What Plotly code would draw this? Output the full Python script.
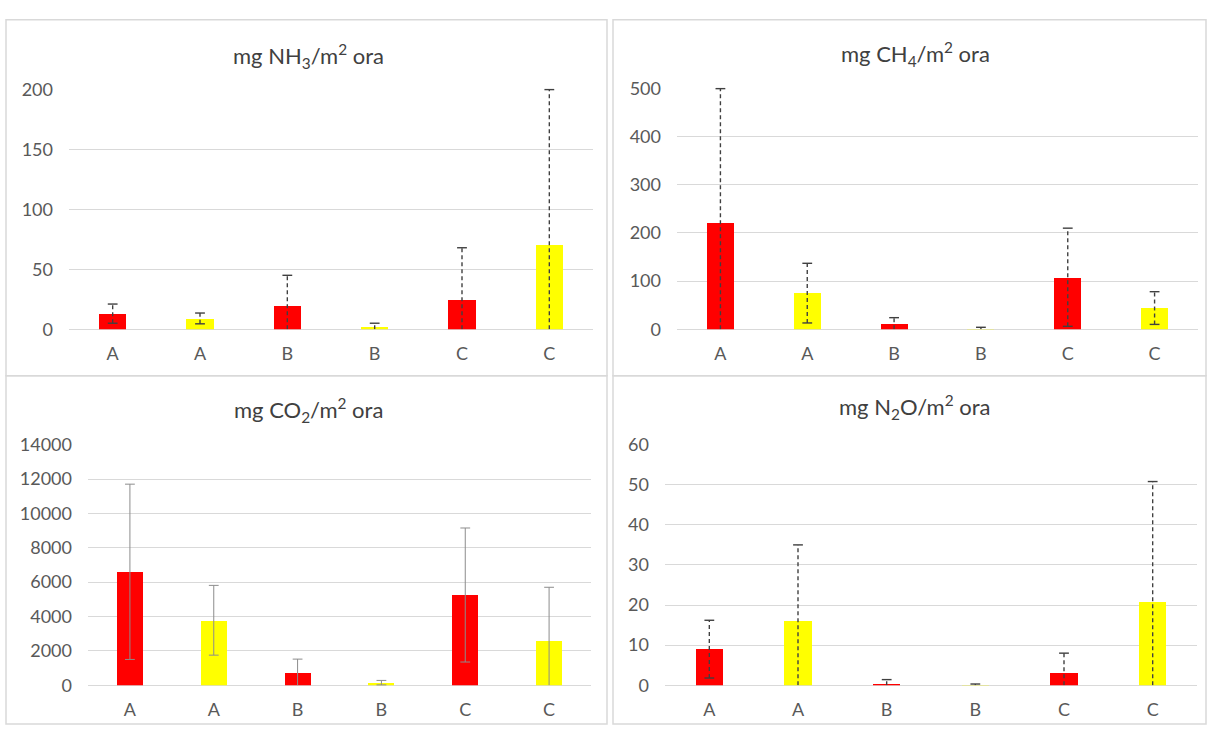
import plotly.graph_objects as go

labels = ["A", "A", "B", "B", "C", "C"]
bar_colors = ["#FF0000", "#FFFF00", "#FF0000", "#FFFF00", "#FF0000", "#FFFF00"]

nh3_mean = [13, 9, 19.5, 2, 25, 71]
nh3_err = [8, 4.5, 25.5, 3, 43, 129]
ch4_mean = [222, 75, 11, 1, 108, 44]
ch4_err = [278, 62, 13, 3, 102, 34]
co2_mean = [6600, 3780, 750, 150, 5250, 2600]
co2_err = [5100, 2030, 770, 130, 3900, 3100]
n2o_mean = [9, 16, 0.5, 0.1, 3.2, 20.8]
n2o_err = [7.2, 19, 0.9, 0.2, 4.8, 30]

W, H = 1207, 735
FONT = "Lato"
TICK_COLOR = "#595959"
GRID = "#D9D9D9"

panels = [
    dict(title="mg NH<sub>3</sub>/m<sup>2</sup> ora", mean=nh3_mean, err=nh3_err,
         rng=[0, 200], dtick=50, px=(69, 593), py=(80, 327), ty=45, tx=308,
         dashed=True),
    dict(title="mg CH<sub>4</sub>/m<sup>2</sup> ora", mean=ch4_mean, err=ch4_err,
         rng=[0, 500], dtick=100, px=(677, 1198), py=(79, 327), ty=43, tx=915,
         dashed=True),
    dict(title="mg CO<sub>2</sub>/m<sup>2</sup> ora", mean=co2_mean, err=co2_err,
         rng=[0, 14000], dtick=2000, px=(88, 591), py=(446, 694), ty=410, tx=309,
         dashed=False),
    dict(title="mg N<sub>2</sub>O/m<sup>2</sup> ora", mean=n2o_mean, err=n2o_err,
         rng=[0, 60], dtick=10, px=(665, 1197), py=(446, 694), ty=407, tx=915,
         dashed=True),
]

fig = go.Figure()
xs = list(range(len(labels)))

for k, p in enumerate(panels):
    n = "" if k == 0 else str(k + 1)
    xa, ya = "x" + n, "y" + n
    fig.add_trace(go.Bar(x=xs, y=p["mean"], marker=dict(color=bar_colors, line=dict(width=0)),
                         width=0.31, xaxis=xa, yaxis=ya, showlegend=False, hoverinfo="skip"))
    lx, ly, cx, cy = [], [], [], []
    for i, (m, e) in enumerate(zip(p["mean"], p["err"])):
        lo = max(m - e, 0)
        hi = m + e
        lx += [i, i, None]
        ly += [lo, hi, None]
        cx.append(i); cy.append(hi)
        if m - e > 0:
            cx.append(i); cy.append(lo)
    if p["dashed"]:
        lcol, lw, dash = "#404040", 1.4, "4px,3px"
    else:
        lcol, lw, dash = "#8C8C8C", 1.0, "solid"
    fig.add_trace(go.Scatter(x=lx, y=ly, mode="lines", line=dict(color=lcol, width=lw, dash=dash),
                             xaxis=xa, yaxis=ya, showlegend=False, hoverinfo="skip"))
    fig.add_trace(go.Scatter(x=cx, y=cy, mode="markers",
                             marker=dict(symbol="line-ew", size=7, line=dict(color=lcol, width=lw)),
                             xaxis=xa, yaxis=ya, showlegend=False, hoverinfo="skip", cliponaxis=False))

    x0, x1 = p["px"]
    y0, y1 = p["py"]
    xkey = "xaxis" + n
    ykey = "yaxis" + n
    fig.layout[xkey] = dict(domain=[x0 / W, x1 / W], anchor=ya, range=[-0.5, 5.5],
                            tickmode="array", tickvals=xs, ticktext=labels,
                            showgrid=False, zeroline=False, showline=False, ticks="",
                            ticklabelstandoff=12,
                            tickfont=dict(family=FONT, size=18, color=TICK_COLOR), fixedrange=True)
    fig.layout[ykey] = dict(domain=[1 - y1 / H, 1 - y0 / H], anchor=xa, range=p["rng"],
                            dtick=p["dtick"], tickformat="d", showgrid=True, gridcolor=GRID, gridwidth=1,
                            zeroline=True, zerolinecolor=GRID, zerolinewidth=1,
                            showline=False, ticks="", ticklabelstandoff=15,
                            tickfont=dict(family=FONT, size=18, color=TICK_COLOR), fixedrange=True)
    fig.add_annotation(text=p["title"], x=p["tx"] / W, y=1 - p["ty"] / H, xref="paper", yref="paper",
                       showarrow=False, xanchor="center", yanchor="middle",
                       font=dict(family=FONT, size=22, color="#404040"))

# panel borders
borders = [(6, 8, 607, 375), (613, 8, 1206, 375), (6, 375, 607, 734), (613, 375, 1206, 734)]
for (bx0, by0, bx1, by1) in borders:
    fig.add_shape(type="rect", xref="paper", yref="paper",
                  x0=bx0 / W, x1=bx1 / W, y0=1 - by1 / H, y1=1 - by0 / H,
                  line=dict(color="#D9D9D9", width=1.5), fillcolor="rgba(0,0,0,0)", layer="below")

fig.update_layout(width=W, height=H, margin=dict(l=0, r=0, t=0, b=0),
                  paper_bgcolor="white", plot_bgcolor="white", bargap=0,
                  hovermode=False, showlegend=False)

fig.write_html("out.html", config={"displayModeBar": False},
               post_script="document.body.style.margin='0';document.body.style.overflow='hidden';")
